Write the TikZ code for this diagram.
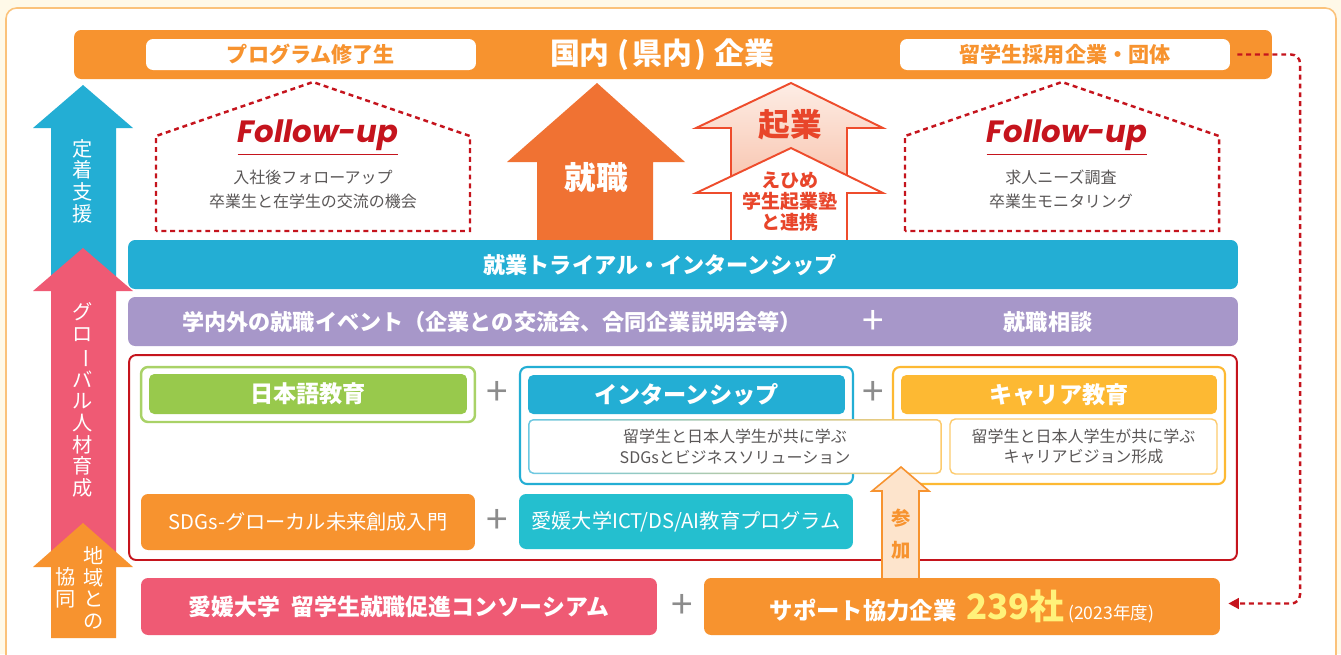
\documentclass[tikz,border=0pt]{standalone}
\usepackage{fontspec}
\setmainfont{Noto Sans CJK JP}
\newfontfamily\fufont{Poppins}
\usetikzlibrary{calc,arrows.meta}

\definecolor{cream}{HTML}{FFF9E8}
\definecolor{frameor}{HTML}{FBC27A}
\definecolor{orange}{HTML}{F7932F}
\definecolor{jobor}{HTML}{F07233}
\definecolor{kigyo}{HTML}{EE4C2C}
\definecolor{kigyotxt}{HTML}{E8452A}
\definecolor{kigyotop}{HTML}{FDEDE5}
\definecolor{kigyobot}{HTML}{F8C4AE}
\definecolor{teal}{HTML}{23AED4}
\definecolor{teallt}{HTML}{6CC8E2}
\definecolor{purple}{HTML}{A797C9}
\definecolor{dred}{HTML}{C5141D}
\definecolor{green}{HTML}{98C94C}
\definecolor{greenlt}{HTML}{A9D267}
\definecolor{ictteal}{HTML}{24BFCF}
\definecolor{yellow}{HTML}{FDB933}
\definecolor{yellowlt}{HTML}{FDCB6E}
\definecolor{pink}{HTML}{EF5A74}
\definecolor{gtext}{HTML}{5A5757}
\definecolor{plusgray}{HTML}{8C8C8C}
\definecolor{peach}{HTML}{FDE4CC}
\definecolor{num}{HTML}{FFF27A}

\begin{document}
\begin{tikzpicture}[x=0.02cm, y=-0.02cm,
	box/.style={rounded corners=4pt, inner sep=0pt},
	wlbl/.style={text=white, font=\bfseries\fontsize{13.2}{16}\selectfont, inner sep=0pt},
	gtxt/.style={text=gtext, font=\fontsize{9.1}{11.8}\selectfont, align=center, inner sep=0pt},
	house/.style={dred, line width=1.4pt, dash pattern=on 2.8pt off 2.2pt},
	plus/.style={text=plusgray, font=\fontsize{22}{22}\selectfont, inner sep=0pt},
	vtxt/.style={text=white, font=\fontsize{11.5}{12.3}\selectfont, align=center, inner sep=0pt},
	fu/.style={text=dred, font=\fufont\bfseries\itshape\fontsize{17.5}{20}\selectfont, inner sep=0pt, anchor=base}]

	\useasboundingbox (0,0) rectangle (1341,654);
	\fill[cream] (0,0) rectangle (1341,654);
	\draw[frameor, line width=0.9pt, fill=white, rounded corners=6pt] (6,8) rectangle (1336,690);

	% top bar
	\node[box, fill=orange, minimum width=23.96cm, minimum height=0.98cm] (topbar) at (673,54.5) {};
	\node[wlbl, font=\bfseries\fontsize{17}{19}\selectfont] (domestic) at (662,55)
	{国内\hspace{0.25em}(\hspace{0.1em}県内\hspace{0.1em})\hspace{0.25em}企業};
	\node[box, fill=white, minimum width=6.6cm, minimum height=0.62cm, text=orange,
		font=\bfseries\fontsize{12}{14}\selectfont] (graduates) at (311,54.5) {プログラム修了生};
	\node[box, fill=white, minimum width=6.6cm, minimum height=0.62cm, text=orange,
		font=\bfseries\fontsize{12}{14}\selectfont] (recruit) at (1065,54.5) {留学生採用企業・団体};

	% follow-up houses
	\draw[house] (156,231) -- (156,136) -- (313,82) -- (470,136) -- (470,231) -- cycle;
	\draw[house] (905,231) -- (905,136) -- (1062,82) -- (1219,136) -- (1219,231) -- cycle;

	\node[fu] (fuleft) at (318,142) {Follow-up};
	\draw[dred, line width=0.6pt] ([yshift=-2pt]fuleft.south west) -- ([yshift=-2pt]fuleft.south east);
	\node[fu] (furight) at (1067,142) {Follow-up};
	\draw[dred, line width=0.6pt] ([yshift=-2pt]furight.south west) -- ([yshift=-2pt]furight.south east);

	\node[gtxt, font=\fontsize{9.1}{13.6}\selectfont] (fulefttxt) at (313,189) {入社後フォローアップ\\卒業生と在学生の交流の機会};
	\node[gtxt, font=\fontsize{9.1}{13.6}\selectfont] (furighttxt) at (1061,189) {求人ニーズ調査\\卒業生モニタリング};

	% centre arrows
	\fill[jobor] (597,83) -- (685,162) -- (653,162) -- (653,242) -- (537,242) -- (537,162) -- (507,162) -- cycle;
	\node[wlbl, font=\bfseries\fontsize{18}{20}\selectfont] (job) at (596,178) {就職};

	\shadedraw[top color=kigyotop, bottom color=kigyobot, draw=kigyo, line width=1.1pt]
	(791,83) -- (883,128) -- (847,128) -- (847,185) -- (731,185) -- (731,128) -- (696,128) -- cycle;
	\filldraw[fill=white, draw=kigyo, line width=1.1pt]
	(791,148) -- (883,193) -- (847,193) -- (847,244) -- (731,244) -- (731,193) -- (696,193) -- cycle;
	\node[text=kigyotxt, font=\bfseries\fontsize{18}{20}\selectfont, inner sep=0pt] (startup) at (790,125) {起業};
	\node[text=kigyotxt, font=\bfseries\fontsize{10.8}{11.9}\selectfont, align=center, inner sep=0pt]
	(juku) at (790,202) {えひめ\\学生起業塾\\と連携};

	% bars
	\node[box, fill=teal, minimum width=22.2cm, minimum height=0.98cm] (trial) at (683,264.5) {};
	\node[wlbl, font=\bfseries\fontsize{12.6}{15}\selectfont] (trialtxt) at (660,265) {就業トライアル・インターンシップ};
	\node[box, fill=purple, minimum width=22.2cm, minimum height=0.98cm] (events) at (683,321.5) {};
	\node[wlbl, font=\bfseries\fontsize{12.6}{15}\selectfont] (eventstxt) at (492,322) {学内外の就職イベント（企業との交流会、合同企業説明会等）};
	\node[plus, text=white] (eventsplus) at (873,322) {+};
	\node[wlbl, font=\bfseries\fontsize{12.6}{15}\selectfont] (consult) at (1048,322) {就職相談};

	% programme box
	\node[box, draw=dred, line width=1.1pt, minimum width=22.16cm, minimum height=4.1cm] (program) at (683,457.5) {};

	\node[box, draw=greenlt, line width=1.4pt, fill=white, minimum width=6.68cm, minimum height=1.1cm] (jpframe) at (308,394.5) {};
	\node[box, rounded corners=3pt, fill=green, minimum width=6.36cm, minimum height=0.8cm, wlbl] (japanese) at (308,394) {日本語教育};

	\node[box, draw=teal, line width=1.2pt, fill=white, minimum width=6.66cm, minimum height=2.34cm] (intframe) at (686.5,425.5) {};
	\node[box, rounded corners=3pt, fill=teal, minimum width=6.34cm, minimum height=0.78cm, wlbl] (intern) at (686.5,394.5) {インターンシップ};

	\node[box, draw=yellow, line width=1.2pt, fill=white, minimum width=6.64cm, minimum height=2.34cm] (carframe) at (1059,425.5) {};
	\node[box, rounded corners=3pt, fill=yellow, minimum width=6.32cm, minimum height=0.78cm, wlbl] (career) at (1059,394.5) {キャリア教育};

	\node[box, rounded corners=3pt, left color=teallt, right color=yellowlt, minimum width=8.28cm, minimum height=1.1cm] (intdescbg) at (735,446.5) {};
	\node[box, rounded corners=2.5pt, fill=white, minimum width=8.22cm, minimum height=1.04cm, gtxt] (intdesc) at (735,446.5)
	{留学生と日本人学生が共に学ぶ\\SDGsとビジネスソリューション};
	\node[box, rounded corners=3pt, draw=yellowlt, line width=0.8pt, fill=white, minimum width=5.34cm, minimum height=1.1cm, gtxt] (cardesc) at (1083.5,446.5)
	{留学生と日本人学生が共に学ぶ\\キャリアビジョン形成};

	\node[plus] (plusjp) at (497,393) {+};
	\node[plus] (pluscar) at (873,393) {+};
	\node[plus] (plussdg) at (497,521) {+};

	\node[box, fill=orange, minimum width=6.68cm, minimum height=1.12cm, text=white,
		font=\fontsize{11.5}{14}\selectfont] (sdgs) at (308,522) {SDGs-グローカル未来創成入門};
	\node[box, fill=ictteal, minimum width=6.68cm, minimum height=1.1cm, text=white,
		font=\fontsize{11.5}{14}\selectfont] (ict) at (686,521.5) {愛媛大学ICT/DS/AI教育プログラム};

	% participation arrow
	\filldraw[fill=peach, draw=orange, line width=0.9pt]
	(901,467) -- (929,491) -- (919,491) -- (919,582) -- (882,582) -- (882,491) -- (872,491) -- cycle;
	\node[text=orange, font=\bfseries\fontsize{11}{18}\selectfont, align=center, inner sep=0pt] (join) at (901,534) {参\\加};

	% bottom row
	\node[box, fill=pink, minimum width=10.32cm, minimum height=1.14cm, text=white,
		font=\bfseries\fontsize{13}{15}\selectfont] (consortium) at (399,606.5) {愛媛大学\hspace{0.5em}留学生就職促進コンソーシアム};
	\node[plus] (plusbot) at (682,606) {+};
	\node[box, fill=orange, minimum width=10.32cm, minimum height=1.14cm, text=white,
		font=\bfseries\fontsize{13.3}{15}\selectfont] (support) at (962,606.5)
	{サポート協力企業\hspace{0.4em}{\color{num}\fontsize{19.8}{20}\selectfont 239社}\,{\mdseries\fontsize{10}{12}\selectfont (2023年度)}};

	\coordinate (bend) at (1300,330);
	\draw[dred, line width=1.4pt, dash pattern=on 2.8pt off 2.2pt, rounded corners=5pt, -{Triangle[length=6pt, width=6pt]}]
	($(recruit.east)+(7,0)$) -| (bend) |- ($(support.east)+(8,-3)$);

	% left arrows
	\foreach \col/\tip/\base/\bot in {teal/85/128/282, pink/248/291/558, orange/523/567/638} {
			\fill[\col] (83,\tip) -- (133,\base) -- (116,\base) -- (116,\bot) -- (51,\bot) -- (51,\base) -- (33,\base) -- cycle;
		}
	\node[vtxt] (settle) at (83,181) {定\\着\\支\\援};
	\node[vtxt] (global) at (83,400) {グ\\ロ\\\rotatebox[origin=c]{-90}{ー}\\バ\\ル\\人\\材\\育\\成};
	\node[vtxt] (region) at (94,588) {地\\域\\と\\の};
	\node[vtxt] (collab) at (66,588) {協\\同};
\end{tikzpicture}
\end{document}
